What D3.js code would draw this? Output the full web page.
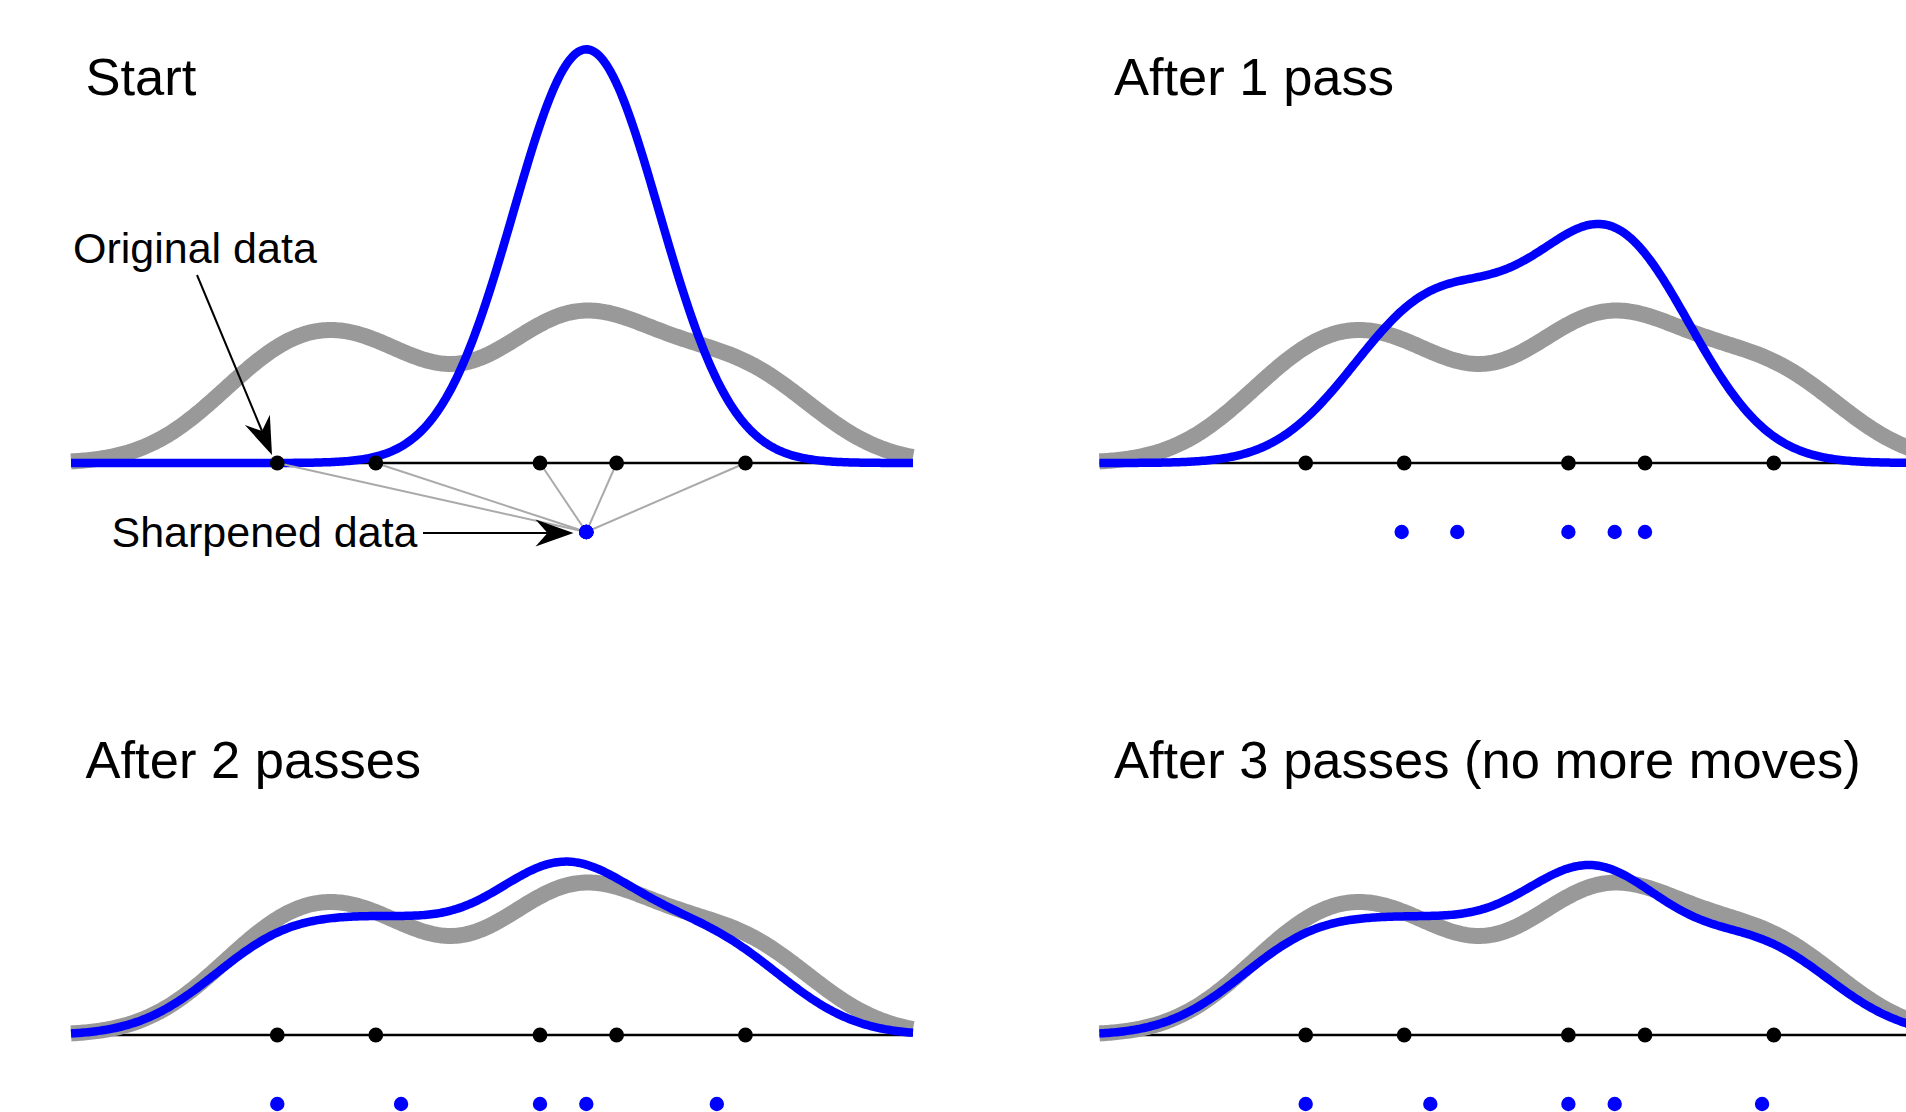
<!DOCTYPE html>
<html>
<head>
<meta charset="utf-8">
<script src="https://cdn.jsdelivr.net/npm/d3@7"></script>
<style>
  html, body { margin: 0; padding: 0; background: #fff; }
  svg { display: block; }
  text { font-family: "Liberation Sans", Arial, Helvetica, sans-serif; fill: #000; }
</style>
</head>
<body>
<svg id="chart" width="1906" height="1112"></svg>
<script>
// ---------------- data ----------------
const panelTitles = ["Start", "After 1 pass", "After 2 passes", "After 3 passes (no more moves)"];
const originalData = [24.5, 36.2, 55.7, 64.8, 80.1];
const sharpenedStart = [61.2, 61.2, 61.2, 61.2, 61.2];
const sharpenedPass1 = [35.9, 42.5, 55.7, 61.2, 64.8];
const sharpenedPass2 = [24.5, 39.2, 55.7, 61.2, 76.7];
const sharpenedPass3 = [24.5, 39.3, 55.7, 61.2, 78.7];
const xDomain = [0, 100];
const yDomain = [0, 0.05];
const bandwidth = 8.66;          // kernel bandwidth used for both density curves
const annotationLabels = ["Original data", "Sharpened data"];

// ---------------- layout ----------------
const svg = d3.select("#chart");
const panels = [
  { dx: 0,      axisY: 463,  titleY: 95,  sharp: sharpenedStart, connectors: true },
  { dx: 1028.4, axisY: 463,  titleY: 95,  sharp: sharpenedPass1, connectors: false },
  { dx: 0,      axisY: 1035, titleY: 778, sharp: sharpenedPass2, connectors: false },
  { dx: 1028.4, axisY: 1035, titleY: 778, sharp: sharpenedPass3, connectors: false }
];
const plotLeft = 71, plotRight = 913;
const sharpOffset = 69;

// Gaussian kernel density estimate of a sample
function kde(sample, h, grid) {
  const n = sample.length, c = 1 / (n * h * Math.sqrt(2 * Math.PI));
  return grid.map(x => [x, c * d3.sum(sample, xi => Math.exp(-((x - xi) ** 2) / (2 * h * h)))]);
}
const grid = d3.range(0, 401).map(i => xDomain[0] + (xDomain[1] - xDomain[0]) * i / 400);

panels.forEach((p, i) => {
  const g = svg.append("g").attr("transform", `translate(${p.dx},0)`);
  const x = d3.scaleLinear().domain(xDomain).range([plotLeft, plotRight]);
  const y = d3.scaleLinear().domain(yDomain).range([p.axisY, p.axisY - 449]);
  const line = d3.line().x(d => x(d[0])).y(d => y(d[1])).curve(d3.curveLinear);

  // title
  g.append("text").attr("x", 85.5).attr("y", p.titleY)
    .style("font-size", "52.5px").text(panelTitles[i]);

  // axis line
  g.append("line").attr("x1", x(xDomain[0])).attr("x2", x(xDomain[1]))
    .attr("y1", y(0)).attr("y2", y(0))
    .attr("stroke", "#000").attr("stroke-width", 2.5);

  // grey density of original data
  g.append("path").datum(kde(originalData, bandwidth, grid))
    .attr("d", line).attr("fill", "none")
    .attr("stroke", "#999999").attr("stroke-width", 16)
    .attr("stroke-linejoin", "round");

  // blue density of sharpened data
  g.append("path").datum(kde(p.sharp, bandwidth, grid))
    .attr("d", line).attr("fill", "none")
    .attr("stroke", "#0000ff").attr("stroke-width", 8.5)
    .attr("stroke-linejoin", "round");

  // connector lines (start panel)
  if (p.connectors) {
    g.selectAll("line.conn").data(originalData).enter().append("line")
      .attr("class", "conn")
      .attr("x1", d => x(d)).attr("y1", y(0))
      .attr("x2", x(p.sharp[0])).attr("y2", y(0) + sharpOffset)
      .attr("stroke", "#aaaaaa").attr("stroke-width", 2);
  }

  // original points
  g.selectAll("circle.orig").data(originalData).enter().append("circle")
    .attr("class", "orig")
    .attr("cx", d => x(d)).attr("cy", y(0)).attr("r", 7.4).attr("fill", "#000");

  // sharpened points
  g.selectAll("circle.sharp").data(p.sharp).enter().append("circle")
    .attr("class", "sharp")
    .attr("cx", d => x(d)).attr("cy", y(0) + sharpOffset).attr("r", 7.2).attr("fill", "#0000ff");
});

// ---------------- annotations (start panel) ----------------
function arrow(x1, y1, x2, y2) {
  const dx = x2 - x1, dy = y2 - y1, L = Math.hypot(dx, dy);
  const ux = dx / L, uy = dy / L, px = -uy, py = ux;
  const headLen = 38, half = 13.5, notch = 26;
  const bx = x2 - ux * headLen, by = y2 - uy * headLen;
  const nx = x2 - ux * notch, ny = y2 - uy * notch;
  svg.append("line").attr("x1", x1).attr("y1", y1).attr("x2", nx).attr("y2", ny)
    .attr("stroke", "#000").attr("stroke-width", 2);
  svg.append("path")
    .attr("d", `M${x2},${y2}L${bx + px * half},${by + py * half}L${nx},${ny}L${bx - px * half},${by - py * half}Z`)
    .attr("fill", "#000");
}

svg.append("text").attr("x", 73).attr("y", 263).style("font-size", "43px").text(annotationLabels[0]);
arrow(197, 275, 272, 455);
svg.append("text").attr("x", 111.5).attr("y", 547).style("font-size", "43px").text(annotationLabels[1]);
arrow(423, 533, 573.5, 533);
</script>
</body>
</html>
